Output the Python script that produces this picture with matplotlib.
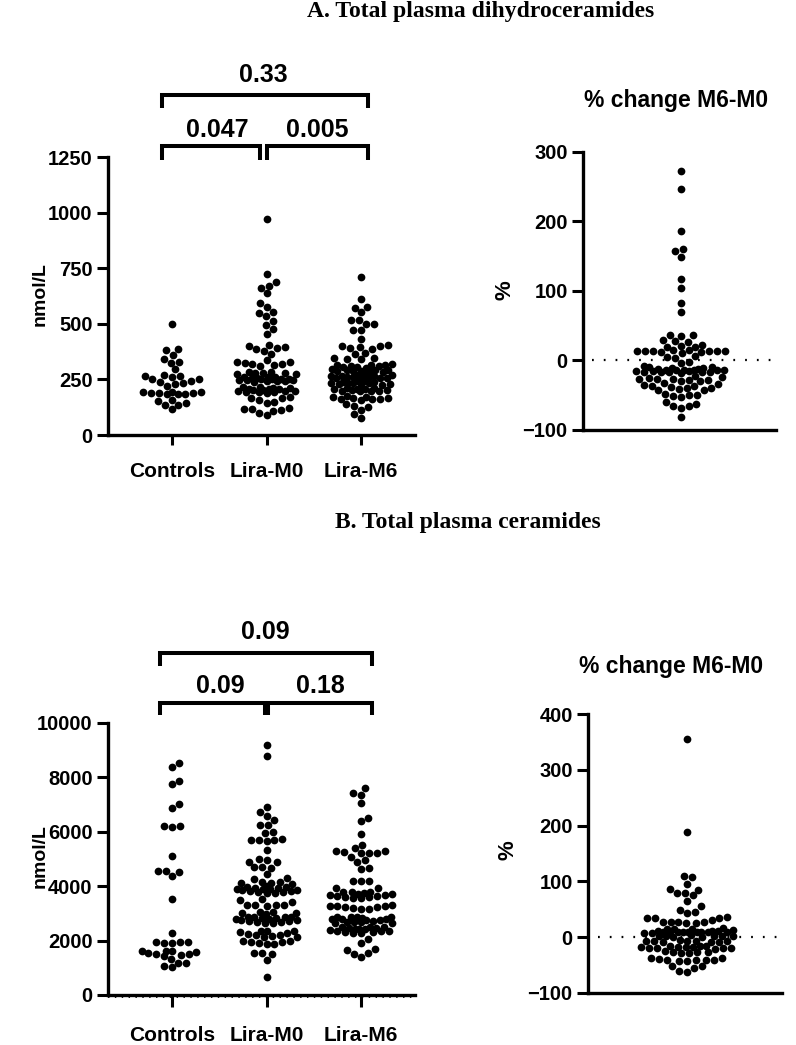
import numpy as np
import matplotlib
matplotlib.use("Agg")
import matplotlib.pyplot as plt

plt.rcParams['font.family'] = ['Liberation Sans', 'DejaVu Sans']
plt.rcParams['font.weight'] = 'bold'

# ---------------- data ----------------
categories = ["Controls", "Lira-M0", "Lira-M6"]

a_controls = [500, 387, 383, 342, 360, 325, 328, 295, 272, 267, 265, 262, 250, 240, 245, 253,
              232, 222, 228, 185, 188, 190, 192, 195, 183, 193, 189, 186, 151, 136, 157, 133, 142, 115]

a_lira_m0 = [973, 724, 688, 671, 662, 637, 595, 574, 552, 547, 534, 514, 495, 476, 453,
             405, 398, 394, 391, 388, 378, 364,
             335, 330, 327, 324, 321, 318, 315, 310,
             285, 282, 280, 279, 277, 276, 274,
             240, 242, 243, 245, 246, 247, 249, 250, 252, 253, 254, 256, 257, 259, 261, 262,
             190, 192, 194, 195, 197, 199, 200, 202, 204, 205, 207, 209, 211, 213, 216, 218,
             170, 166, 158, 150, 146, 168,
             120, 116, 108, 90, 98, 112, 119]

a_lira_m6 = [712, 610, 575, 573, 552, 518, 516, 500, 498, 473, 470, 432,
             405, 402, 398, 395, 392, 388,
             370, 365, 347, 345, 342, 340,
             318, 316, 314, 313, 311, 309, 306, 304, 302,
             296, 294, 292, 291, 289, 288, 286, 285, 283,
             255, 256, 258, 259, 260, 262, 263, 264, 266, 267, 269, 270, 272,
             226, 228, 229, 231, 232, 233, 235, 236, 238, 239, 241, 243,
             196, 198, 199, 200, 202, 203, 205, 206, 208, 210, 212,
             158, 160, 162, 164, 165, 167, 169, 171, 174,
             138, 132, 128, 112, 94, 76]

a_pct = [273, 247, 187, 160, 157, 149, 117, 105, 83, 70,
         37, 36, 35, 29, 28, 27, 22, 21, 19, 19,
         15, 14, 14, 13, 12, 11, 13, 12, 14, 15, 13,
         6, 5, 4, -2, -4, -8, -9,
         -10, -11, -11, -12, -12, -13, -13, -13, -14, -14, -14, -15, -15, -15, -16, -16, -16, -17, -17, -18,
         -23, -24, -25, -26, -26, -27, -28, -28, -29, -30,
         -33, -34, -36, -37, -38, -39, -40, -41, -42, -43, -35,
         -48, -49, -50, -51, -52,
         -60, -62, -65, -66, -68, -82]

b_controls = [8540, 8370, 7877, 7745, 7021, 6863, 6212, 6163, 6212, 5121, 4570, 4375, 4533, 4570, 3517, 2291,
              1950, 1930, 1945, 1925, 1940,
              1630, 1600, 1560, 1520, 1430, 1470, 1510, 1580, 1620,
              1323, 1188, 1017, 1077, 1188]

b_lira_m0 = [9190, 8786, 6922, 6738, 6580, 6433, 6250, 6240, 6004, 5967,
             5720, 5690, 5700, 5680, 5710, 5330,
             5000, 4950, 4900, 4880, 4700, 4690, 4680, 4437,
             4312, 4252, 4165, 4106, 4080, 4106, 4165,
             3740, 3760, 3780, 3800, 3810, 3830, 3850, 3860, 3880, 3900, 3910, 3930, 3950, 3960, 3980, 3990,
             3520, 3480, 3430,
             3320, 3310, 3300, 3290, 3305,
             3060, 3030, 3000, 2980, 3040,
             2640, 2660, 2680, 2700, 2720, 2730, 2750, 2770, 2780, 2800, 2820, 2830, 2850, 2860, 2870, 2880,
             2360, 2340, 2310, 2290, 2350,
             2240, 2220, 2180, 2150, 2120, 2200,
             1995, 1960, 1940, 1910, 1890, 1875, 1980,
             1560, 1540, 1500, 1287, 650]

b_lira_m6 = [7597, 7414, 7352, 7046, 6518, 6407, 5907,
             5514, 5392, 5305, 5293, 5240, 5220, 5230, 5210,
             5060, 4962, 4900, 4660, 4640, 4200, 4180, 4190, 3940, 3920,
             3555, 3570, 3590, 3610, 3630, 3650, 3670, 3690, 3710, 3730, 3750, 3770, 3790, 3800,
             3300, 3270, 3240, 3230, 3260, 3290, 3200, 3180, 3150,
             2635, 2650, 2670, 2690, 2700, 2720, 2740, 2760, 2780, 2790, 2810, 2830, 2850, 2860, 2870, 2880,
             2270, 2290, 2300, 2320, 2340, 2360, 2370, 2390, 2410, 2420, 2440, 2460, 2470, 2490, 2500, 2510,
             2058, 1922, 1680, 1540, 1390, 1520, 1670]

b_pct = [356, 188, 110, 107, 96, 86, 85, 80, 79, 75, 65, 56, 49, 46, 43,
         36, 35, 34, 35,
         28, 27, 25, 30, 26, 27, 28,
         15, 14, 16, 14, 13,
         11, 10, 9, 10, 8, 9, 11, 10, 9, 8, 10, 11, 9, 10,
         3, 2, 1, 2, 4, 1, 3, 2,
         -6, -7, -8, -6, -5, -8, -7, -9, -6,
         -15, -16, -17, -18, -19, -20, -21, -17, -18, -16, -19, -20,
         -26, -27, -28, -25, -27, -29,
         -38, -40, -41, -42, -39, -40, -43, -41, -38,
         -52, -55, -62, -60, -52]

a_pvals = ["0.047", "0.005", "0.33"]
b_pvals = ["0.09", "0.18", "0.09"]

# ---------------- figure ----------------
W_PX, H_PX, DPI = 796, 1045, 100
fig = plt.figure(figsize=(W_PX / DPI, H_PX / DPI), dpi=DPI)


def add_axes_px(x0, x1, ytop, ybot):
    return fig.add_axes([x0 / W_PX, 1 - ybot / H_PX, (x1 - x0) / W_PX, (ybot - ytop) / H_PX])


def swarm_x(ax, xc, vals, D=8.0, W=31.0):
    vals = np.asarray(vals, float)
    pix = ax.transData.transform(np.column_stack([np.full(vals.size, xc), vals]))
    ys = pix[:, 1]
    xc_px = pix[0, 0]
    order = np.argsort(ys, kind='stable')
    pxl, pyl = [], []
    off = np.zeros(vals.size)
    flip = 1
    for i in order:
        y = ys[i]
        best = None
        for f in (1.0, 0.85, 0.7, 0.55, 0.45, 0.35, 0.25, 0.15):
            d = D * f
            nb = [(a, b) for a, b in zip(pxl, pyl) if abs(b - y) < d]
            cands = [0.0]
            for a, b in nb:
                h = np.sqrt(max(d * d - (b - y) ** 2, 0.0))
                cands += [a + h, a - h]
            cands.sort(key=lambda c: (round(abs(c), 5), -flip * c))
            for c in cands:
                if abs(c) > W:
                    continue
                if all((c - a) ** 2 + (y - b) ** 2 >= d * d - 1e-6 for a, b in nb):
                    best = c
                    break
            if best is not None:
                break
        if best is None:
            best = 0.0
        flip = -flip
        off[i] = best
        pxl.append(best)
        pyl.append(y)
    xy = ax.transData.inverted().transform(np.column_stack([xc_px + off, ys]))
    return xy[:, 0], vals


SPINE_LW = 2.4
DOT_S = 31
TICK_FS = 14.5


def style_axes(ax):
    for s in ('top', 'right'):
        ax.spines[s].set_visible(False)
    for s in ('left', 'bottom'):
        ax.spines[s].set_linewidth(SPINE_LW)
        ax.spines[s].set_capstyle('projecting')
    ax.tick_params(axis='y', length=8, width=2.2, pad=3, labelsize=TICK_FS)
    for lab in ax.get_yticklabels():
        lab.set_fontweight('bold')


# ---------- Panel A left ----------
axA = add_axes_px(108, 415, 157, 435)
axA.set_xlim(-0.677, 2.571)
axA.set_ylim(0, 1250)
axA.set_yticks([0, 250, 500, 750, 1000, 1250])
style_axes(axA)
axA.set_xticks(range(len(categories)))
axA.set_xticklabels(categories, fontsize=15, fontweight='bold')
axA.tick_params(axis='x', length=7.5, width=2.2, pad=12)
for k, grp in enumerate([a_controls, a_lira_m0, a_lira_m6]):
    xs, ys = swarm_x(axA, k, grp)
    axA.scatter(xs, ys, s=DOT_S, color='black', linewidths=0, zorder=3, clip_on=False)

# ---------- Panel A right ----------
axAp = add_axes_px(583, 776, 152, 430)
axAp.set_xlim(-98, 95)
axAp.set_ylim(-100, 300)
axAp.set_yticks([-100, 0, 100, 200, 300])
style_axes(axAp)
axAp.set_xticks([])
axAp.axhline(0, xmin=0.045, xmax=1, color='black', lw=1.6, ls=(0, (0.8, 4.5)), zorder=1)
xs, ys = swarm_x(axAp, 0, a_pct, W=45)
axAp.scatter(xs, ys, s=DOT_S, color='black', linewidths=0, zorder=3, clip_on=False)

# ---------- Panel B left ----------
axB = add_axes_px(108, 415, 723, 995)
axB.set_xlim(-0.677, 2.571)
axB.set_ylim(0, 10000)
axB.set_yticks([0, 2000, 4000, 6000, 8000, 10000])
style_axes(axB)
axB.set_xticks(range(len(categories)))
axB.set_xticklabels(categories, fontsize=15, fontweight='bold')
axB.tick_params(axis='x', length=8.5, width=2.2, pad=14)
axB.axhline(-90, color='black', lw=1.3, ls=(0, (0.8, 3.0)), zorder=1, clip_on=False)
for k, grp in enumerate([b_controls, b_lira_m0, b_lira_m6]):
    xs, ys = swarm_x(axB, k, grp)
    axB.scatter(xs, ys, s=DOT_S, color='black', linewidths=0, zorder=3, clip_on=False)

# ---------- Panel B right ----------
axBp = add_axes_px(588, 782, 714, 993)
axBp.set_xlim(-99, 95)
axBp.set_ylim(-100, 400)
axBp.set_yticks([-100, 0, 100, 200, 300, 400])
style_axes(axBp)
axBp.set_xticks([])
axBp.axhline(0, xmin=0.05, xmax=1, color='black', lw=1.6, ls=(0, (0.8, 4.5)), zorder=1)
xs, ys = swarm_x(axBp, 0, b_pct, W=46)
axBp.scatter(xs, ys, s=DOT_S, color='black', linewidths=0, zorder=3, clip_on=False)


# ---------- significance brackets ----------
def bracket(ax, x0, x1, y, ydrop):
    ax.plot([x0, x0, x1, x1], [ydrop, y, y, ydrop], color='black', lw=2.9,
            solid_joinstyle='miter', solid_capstyle='butt', clip_on=False)


# Panel A brackets (in data units of axA)
bracket(axA, -0.106, 0.931, 1299, 1236)
bracket(axA, 1.005, 2.074, 1299, 1236)
bracket(axA, -0.106, 2.074, 1529, 1469)
axA.text(0.476, 1371, a_pvals[0], ha='center', va='center', fontsize=18, fontweight='bold')
axA.text(1.534, 1371, a_pvals[1], ha='center', va='center', fontsize=18, fontweight='bold')
axA.text(0.963, 1619, a_pvals[2], ha='center', va='center', fontsize=18, fontweight='bold')

# Panel B brackets
bracket(axB, -0.127, 0.984, 10735, 10294)
bracket(axB, 1.016, 2.116, 10735, 10294)
bracket(axB, -0.127, 2.116, 12574, 12096)
axB.text(0.508, 11360, b_pvals[0], ha='center', va='center', fontsize=18, fontweight='bold')
axB.text(1.566, 11360, b_pvals[1], ha='center', va='center', fontsize=18, fontweight='bold')
axB.text(0.984, 13346, b_pvals[2], ha='center', va='center', fontsize=18, fontweight='bold')


# ---------- texts ----------
def ftext(x, y, s, **kw):
    fig.text(x / W_PX, 1 - y / H_PX, s, **kw)


ftext(307, 17, "A. Total plasma dihydroceramides", ha='left', va='baseline',
      fontsize=17, fontweight='bold', family=['Liberation Serif', 'DejaVu Serif'])
ftext(335, 528, "B. Total plasma ceramides", ha='left', va='baseline',
      fontsize=17, fontweight='bold', family=['Liberation Serif', 'DejaVu Serif'])

ftext(676, 101, "% change M6-M0", ha='center', va='center', fontsize=16.5, fontweight='bold')
ftext(671, 667, "% change M6-M0", ha='center', va='center', fontsize=16.5, fontweight='bold')

ftext(40, 294, "nmol/L", ha='center', va='center', rotation=90, fontsize=14, fontweight='bold')
ftext(40, 856, "nmol/L", ha='center', va='center', rotation=90, fontsize=14, fontweight='bold')
ftext(505, 290, "%", ha='center', va='center', rotation=90, fontsize=16, fontweight='bold')
ftext(508, 850, "%", ha='center', va='center', rotation=90, fontsize=16, fontweight='bold')

fig.savefig("out.png", dpi=DPI, facecolor='white')
